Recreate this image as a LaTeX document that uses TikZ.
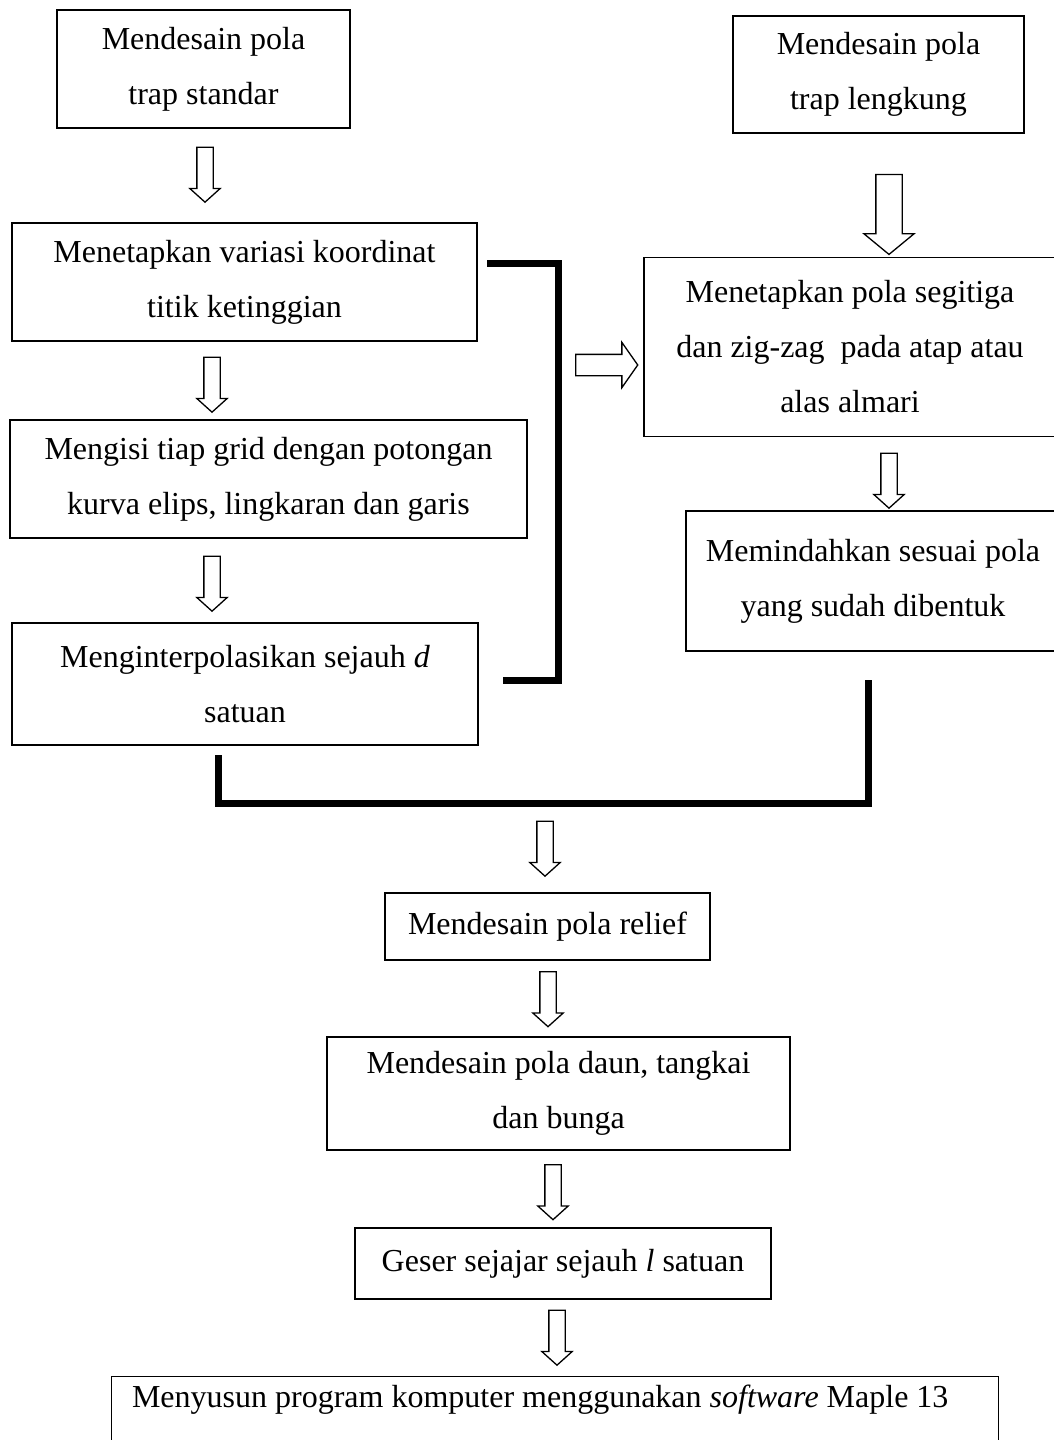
\documentclass[tikz,border=0pt]{standalone}
\usepackage{fontspec}
\setmainfont{Liberation Serif}
\usetikzlibrary{shapes.arrows}

\begin{document}
\begin{tikzpicture}[x=1pt,y=-1pt,
  box/.style={draw, line width=1.4pt, align=center, inner sep=0pt,
    font=\fontsize{32}{55}\selectfont},
  downarrow/.style={draw, line width=1.3pt, single arrow, shape border rotate=270,
    inner sep=7.5pt, minimum height=55pt,
    single arrow head extend=7pt, single arrow tip angle=96},
  bracket/.style={line width=7pt}]

\useasboundingbox (0,0) rectangle (1053,1440);

% left column
\node[box, minimum width=293pt, minimum height=118pt] (standar) at (203.5,69) {Mendesain pola\\trap standar};
\node[box, minimum width=465pt, minimum height=118pt] (koordinat) at (244.5,282) {Menetapkan variasi koordinat\\titik ketinggian};
\node[box, minimum width=517pt, minimum height=118pt] (grid) at (268.5,479) {Mengisi tiap grid dengan potongan\\kurva elips, lingkaran dan garis};
\node[box, minimum width=466pt, minimum height=122pt] (interpolasi) at (245,684) {Menginterpolasikan sejauh \textit{d}\\satuan};

\node[downarrow] (arrA) at (205,171) {};
\node[downarrow] (arrC) at (212,381) {};
\node[downarrow] (arrE) at (212,580) {};

% right column
\node[box, minimum width=291pt, minimum height=117pt] (lengkung) at (878.5,74.5) {Mendesain pola\\trap lengkung};
\node[box, minimum width=412pt, minimum height=179pt] (segitiga) at (850,347) {Menetapkan pola segitiga\\dan zig-zag\ \ pada atap atau\\alas almari};
\node[box, minimum width=374pt, minimum height=140pt] (pindah) at (873,581) {Memindahkan sesuai pola\\yang sudah dibentuk};

\node[downarrow, inner sep=12.5pt, minimum height=80pt, single arrow head extend=12pt, single arrow tip angle=101] (arrB) at (889,209) {};
\node[downarrow] (arrD) at (889,477) {};

% bracket to the right column
\coordinate (brTop) at (487,263);
\coordinate (brBot) at (503,680);
\draw[bracket] (brTop) -| (558,680) -- (brBot);
\node[draw, line width=1.3pt, single arrow, inner sep=10pt, minimum height=62pt,
  single arrow head extend=12pt, single arrow tip angle=110] (arrR) at (603,365) {};

% joining bracket
\coordinate (joinL) at (218,755);
\coordinate (joinR) at (868,680);
\draw[bracket] (joinL) |- (543,803) -| (joinR);

% lower column
\node[downarrow] (arrJ) at (545,845) {};
\node[box, minimum width=325pt, minimum height=67pt] (relief) at (547.5,926.5) {Mendesain pola relief};
\node[downarrow] (arrH) at (548,995.5) {};
\node[box, minimum width=463pt, minimum height=113pt] (daun) at (558.5,1093.5) {Mendesain pola daun, tangkai\\dan bunga};
\node[downarrow] (arrI) at (553,1188.5) {};
\node[box, minimum width=416pt, minimum height=71pt] (geser) at (563,1263.5) {Geser sejajar sejauh \textit{l} satuan};
\node[downarrow] (arrG) at (557,1334) {};
\node[box, draw=none, text width=846pt, inner xsep=20pt, align=flush left, minimum height=46pt] (maple) at (555,1400) {Menyusun program komputer menggunakan \textit{software} Maple 13};
\draw[line width=1.4pt] ([yshift=-80pt]maple.south west) |- (maple.north east) -- ([yshift=-80pt]maple.south east);

\end{tikzpicture}
\end{document}
